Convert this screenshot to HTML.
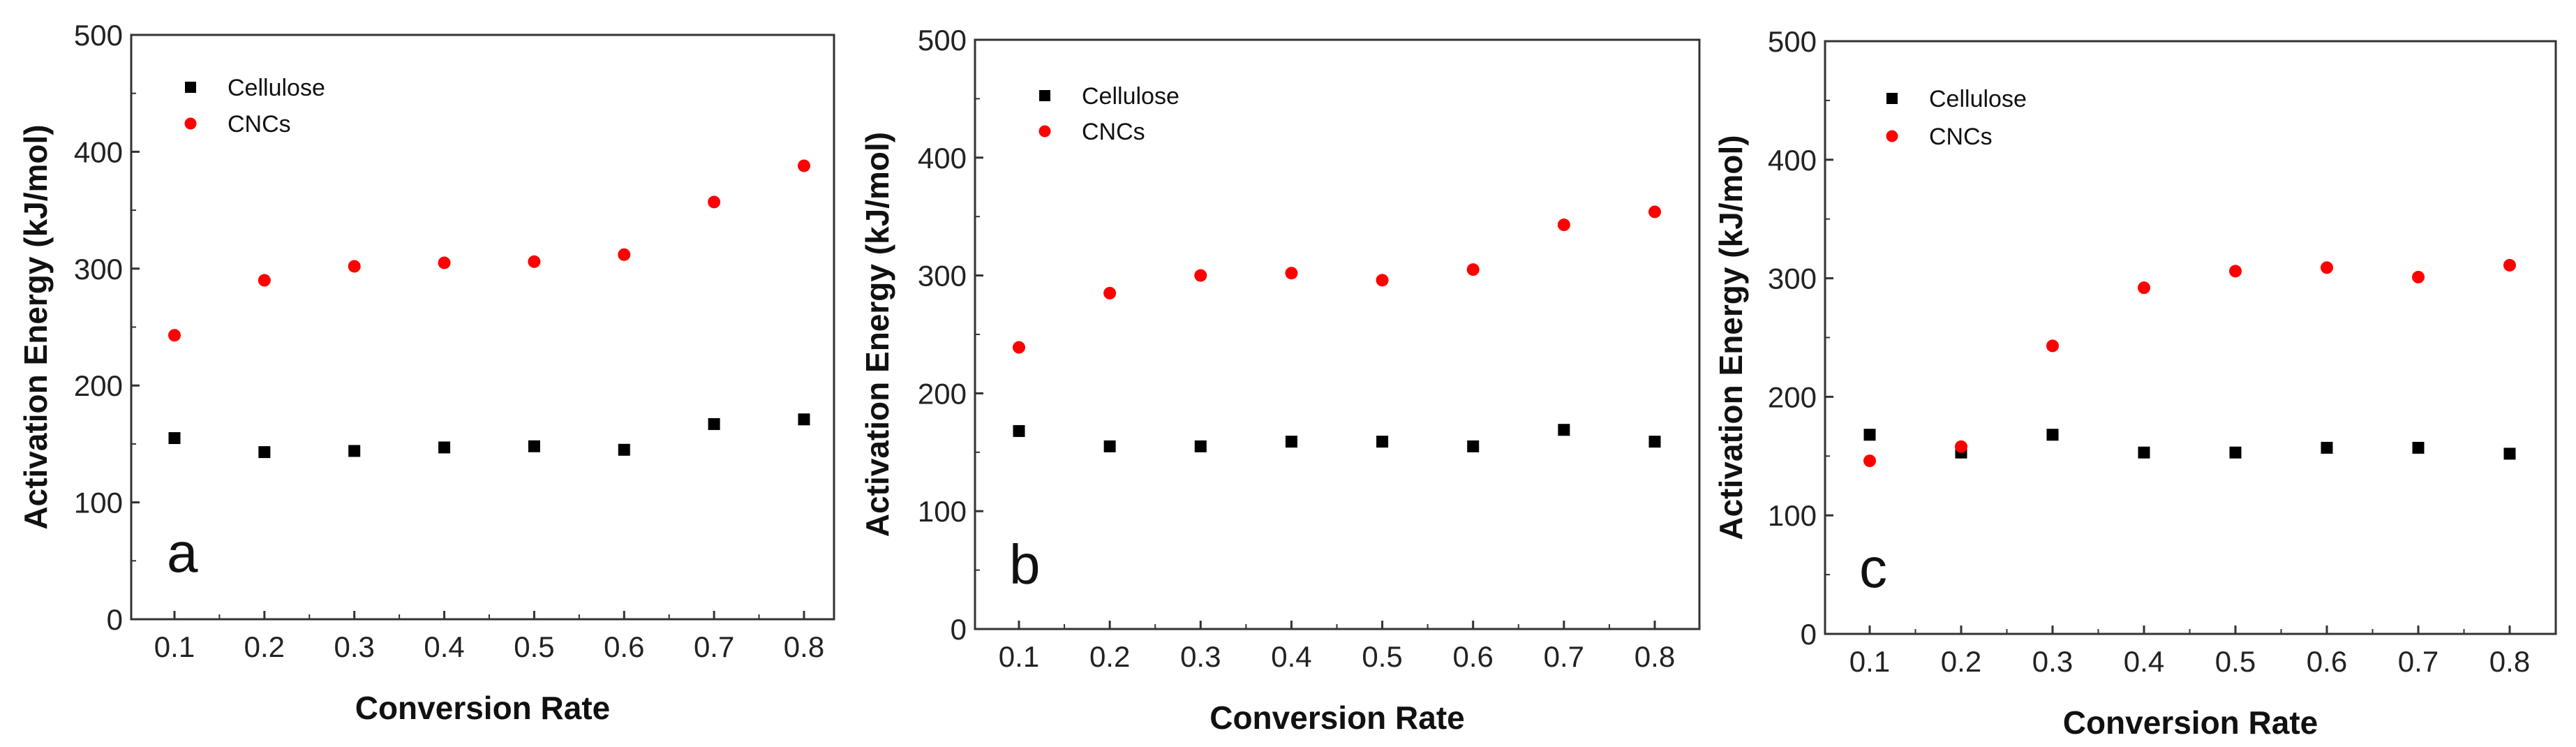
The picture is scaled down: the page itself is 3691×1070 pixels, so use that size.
<!DOCTYPE html>
<html><head><meta charset="utf-8"><style>
html,body{margin:0;padding:0;background:#fff;}
svg{display:block;font-family:"Liberation Sans",Arial,sans-serif;}
</style></head><body>
<svg id="chart" width="3691" height="1070" viewBox="0 0 3691 1070" xmlns="http://www.w3.org/2000/svg">
<rect x="0" y="0" width="3691" height="1070" fill="#fff"/>
</svg>
<script>
const categories = [0.1,0.2,0.3,0.4,0.5,0.6,0.7,0.8];
const yTicks = [0,100,200,300,400,500];
const xTickLabels = ["0.1","0.2","0.3","0.4","0.5","0.6","0.7","0.8"];
const seriesNames = ["Cellulose","CNCs"];
const cellA = [155,143,144,147,148,145,167,171];
const cncA  = [243,290,302,305,306,312,357,388];
const cellB = [168,155,155,159,159,155,169,159];
const cncB  = [239,285,300,302,296,305,343,354];
const cellC = [168,153,168,153,153,157,157,152];
const cncC  = [146,158,243,292,306,309,301,311];
const panelLetters = ["a","b","c"];

const NS="http://www.w3.org/2000/svg";
const svg=document.getElementById('chart');
function mk(tag,attrs,parent,text){const e=document.createElementNS(NS,tag);for(const k in attrs)e.setAttribute(k,attrs[k]);if(text!==undefined)e.textContent=text;(parent||svg).appendChild(e);return e;}

const panels=[
 {L:188,R:1195,T:50,B:887,x1:250,x8:1152,legX:273,legY:125,legY2:177,legTX:326,letX:239,letY:819,ytX:51,cell:cellA,cnc:cncA},
 {L:1397,R:2435,T:57,B:901,x1:1460,x8:2371,legX:1497,legY:137,legY2:188,legTX:1550,letX:1446,letY:836,ytX:1257,cell:cellB,cnc:cncB},
 {L:2615,R:3662,T:59,B:908,x1:2679,x8:3596,legX:2711,legY:141,legY2:195,legTX:2764,letX:2664,letY:841,ytX:2480,cell:cellC,cnc:cncC}
];

panels.forEach((p,i)=>{
 const g=mk('g',{});
 
 
 const xs=v=>p.x1+(v-0.1)/0.7*(p.x8-p.x1);
 const ys=v=>p.B-v/500*(p.B-p.T);
 const frame=mk('rect',{x:p.L,y:p.T,width:p.R-p.L,height:p.B-p.T,fill:'none',stroke:'#333','stroke-width':3},g);
 
 
 // y ticks
 yTicks.forEach(t=>{
  mk('line',{x1:p.L,x2:p.L+12,y1:ys(t),y2:ys(t),stroke:'#333','stroke-width':3},g);
  const lb=mk('text',{x:p.L-12,y:ys(t)+15,'text-anchor':'end','font-size':42,fill:'#222'},g,String(t));
  
  
  if(t<500){const m=t+50;mk('line',{x1:p.L,x2:p.L+7,y1:ys(m),y2:ys(m),stroke:'#333','stroke-width':2},g);}
 });
 // x ticks
 categories.forEach((c,j)=>{
  mk('line',{x1:xs(c),x2:xs(c),y1:p.B,y2:p.B-12,stroke:'#333','stroke-width':3},g);
  if(j<categories.length-1){const m=c+0.05;mk('line',{x1:xs(m),x2:xs(m),y1:p.B,y2:p.B-7,stroke:'#333','stroke-width':2},g);}
  const lb=mk('text',{x:xs(c),y:p.B+54,'text-anchor':'middle','font-size':42,fill:'#222'},g,xTickLabels[j]);
  
  
 });
 const xt=mk('text',{x:(p.L+p.R)/2,y:p.B+143,'text-anchor':'middle','font-size':46,'font-weight':'bold',fill:'#111'},g,'Conversion Rate');
 
 
 const cy=(p.T+p.B)/2;
 const yt=mk('text',{x:p.ytX,y:cy,'text-anchor':'middle','font-size':46,'font-weight':'bold',fill:'#111','dominant-baseline':'central',transform:`rotate(-90 ${p.ytX} ${cy})`},g,'Activation Energy (kJ/mol)');
 
 
 const let_=mk('text',{x:p.letX,y:p.letY,'font-size':80,fill:'#111'},g,panelLetters[i]);
 
 
 // legend
 const ls=mk('rect',{x:p.legX-8,y:p.legY-8,width:16,height:16,fill:'#000'},g);
 
 
 const lt1=mk('text',{x:p.legTX,y:p.legY+12,'font-size':34,fill:'#111'},g,seriesNames[0]);
 
 
 const lc=mk('circle',{cx:p.legX,cy:p.legY2,r:8.5,fill:'#f00'},g);
 
 
 const lt2=mk('text',{x:p.legTX,y:p.legY2+12,'font-size':34,fill:'#111'},g,seriesNames[1]);
 
 
 // series
 categories.forEach((c,j)=>{
  const s=mk('rect',{x:xs(c)-8.5,y:ys(p.cell[j])-8.5,width:17,height:17,fill:'#000'},g);
  
  
 });
 categories.forEach((c,j)=>{
  const s=mk('circle',{cx:xs(c),cy:ys(p.cnc[j]),r:9,fill:'#f00'},g);
  
  
 });
});
</script>
</body></html>
